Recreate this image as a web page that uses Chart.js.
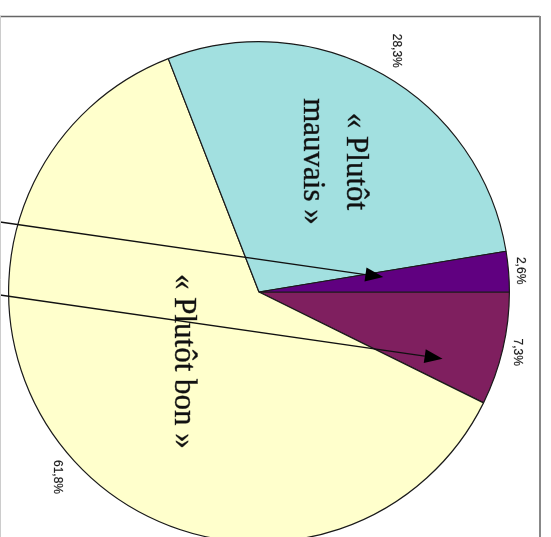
<!DOCTYPE html>
<html>
<head>
<meta charset="utf-8">
<script src="https://cdn.jsdelivr.net/npm/chart.js@4/dist/chart.umd.min.js"></script>
<style>
html, body { margin: 0; padding: 0; background: #fff; }
#wrap { width: 551px; height: 537px; overflow: hidden; position: relative; }
</style>
</head>
<body>
<div id="wrap"><canvas id="pieChart" width="551" height="543"></canvas></div>
<script>
// slices, clockwise from 3 o'clock
const categories = ["Très bon", "Plutôt bon", "Plutôt mauvais", "Très mauvais"];
const values = [7.3, 61.8, 28.3, 2.6];
const sliceColors = ["#7f1f5f", "#ffffcc", "#a2e0e0", "#600080"];

// big captions inside the two large slices
const captions = [
    { slice: 1, lines: ["« Plutôt bon »"], dist: 0.41 },
    { slice: 2, lines: ["« Plutôt", "mauvais »"], dist: 0.6 }
];

// arrows coming from outside the frame (left) to the small slices
const arrows = [
    { slice: 3, along: 0.27, dist: 0.5, fromDy: -70 },
    { slice: 0, along: 0.76, dist: 0.78, fromDy: 3 }
];

function pctText(v) {
    return v.toFixed(1).replace(".", ",") + "%";
}

const overlay = {
    id: "overlay",
    afterDraw(chart) {
        const ctx = chart.ctx;
        const arcs = chart.getDatasetMeta(0).data;
        const cx = arcs[0].x, cy = arcs[0].y, r = arcs[0].outerRadius;

        // percentage labels, rotated like the rest of the picture
        ctx.save();
        ctx.fillStyle = "#1a1a1a";
        ctx.strokeStyle = "rgba(30,30,30,0.5)";
        ctx.lineWidth = 0.4;
        ctx.font = "12px 'Liberation Sans', Arial, sans-serif";
        ctx.textAlign = "center";
        ctx.textBaseline = "middle";
        arcs.forEach((a, i) => {
            const mid = (a.startAngle + a.endAngle) / 2;
            const d = r + 10 + 20 * Math.abs(Math.sin(mid));
            ctx.save();
            ctx.translate(cx + d * Math.cos(mid), cy + d * Math.sin(mid));
            ctx.rotate(Math.PI / 2);
            ctx.fillText(pctText(values[i]), 0, 0);
            ctx.strokeText(pctText(values[i]), 0, 0);
            ctx.restore();
        });
        ctx.restore();

        // captions
        ctx.save();
        ctx.fillStyle = "#111";
        ctx.strokeStyle = "rgba(17,17,17,0.6)";
        ctx.lineWidth = 0.6;
        ctx.font = "31px 'Liberation Serif', 'Times New Roman', serif";
        ctx.textAlign = "center";
        ctx.textBaseline = "middle";
        captions.forEach(c => {
            const a = arcs[c.slice];
            const mid = (a.startAngle + a.endAngle) / 2;
            ctx.save();
            ctx.translate(cx + c.dist * r * Math.cos(mid), cy + c.dist * r * Math.sin(mid));
            ctx.rotate(Math.PI / 2);
            const lh = 43;
            c.lines.forEach((t, k) => {
                const y = (k - (c.lines.length - 1) / 2) * lh;
                ctx.fillText(t, 0, y);
                ctx.strokeText(t, 0, y);
            });
            ctx.restore();
        });
        ctx.restore();

        // arrows
        ctx.save();
        ctx.strokeStyle = "#111";
        ctx.fillStyle = "#000";
        ctx.lineWidth = 1.3;
        arrows.forEach(ar => {
            const a = arcs[ar.slice];
            const ang = a.startAngle + ar.along * (a.endAngle - a.startAngle);
            const tx = cx + ar.dist * r * Math.cos(ang);
            const ty = cy + ar.dist * r * Math.sin(ang);
            const sx = 0, sy = cy + ar.fromDy;
            const dir = Math.atan2(ty - sy, tx - sx);
            const len = 18, hw = 7;
            const bx = tx - len * Math.cos(dir), by = ty - len * Math.sin(dir);
            ctx.beginPath();
            ctx.moveTo(sx, sy);
            ctx.lineTo(bx, by);
            ctx.stroke();
            ctx.beginPath();
            ctx.moveTo(tx, ty);
            ctx.lineTo(bx + hw * Math.sin(dir), by - hw * Math.cos(dir));
            ctx.lineTo(bx - hw * Math.sin(dir), by + hw * Math.cos(dir));
            ctx.closePath();
            ctx.fill();
        });
        ctx.restore();

        // frame
        ctx.save();
        ctx.strokeStyle = "#666";
        ctx.lineWidth = 1.5;
        ctx.beginPath();
        ctx.moveTo(0, 16.5);
        ctx.lineTo(540, 16.5);
        ctx.stroke();
        ctx.strokeStyle = "#888";
        ctx.lineWidth = 2;
        ctx.beginPath();
        ctx.moveTo(540, 16);
        ctx.lineTo(540, chart.height);
        ctx.stroke();
        ctx.strokeStyle = "#ccc";
        ctx.lineWidth = 1;
        ctx.beginPath();
        ctx.moveTo(0.5, 16);
        ctx.lineTo(0.5, chart.height);
        ctx.stroke();
        ctx.restore();
    }
};

new Chart(document.getElementById("pieChart"), {
    type: "pie",
    data: {
        labels: categories,
        datasets: [
            {
                data: values,
                backgroundColor: sliceColors,
                borderColor: "#1a1a1a",
                borderWidth: 1.2
            }
        ]
    },
    options: {
        responsive: false,
        animation: false,
        rotation: 90,
        events: [],
        layout: {
            padding: { left: 8, top: 41, right: 41, bottom: 0 }
        },
        plugins: {
            legend: { display: false },
            tooltip: { enabled: false }
        }
    },
    plugins: [overlay]
});
</script>
</body>
</html>
